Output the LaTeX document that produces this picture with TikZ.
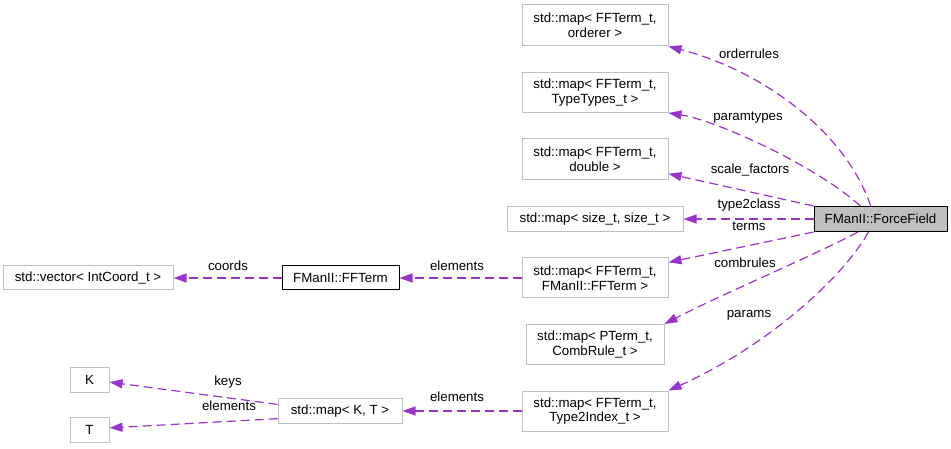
\documentclass[tikz,border=0pt]{standalone}
\usepackage{fontspec}
\setmainfont{Liberation Sans}
\usepackage{tikz}
\usetikzlibrary{arrows.meta, positioning}

\definecolor{edgepurple}{HTML}{9A32CD}
\definecolor{boxgray}{HTML}{BFBFBF}
\newcommand{\dfont}{\fontsize{13.3}{14.7}\selectfont}

\begin{document}
\begin{tikzpicture}[
    x=1pt, y=-1pt,
    node distance=25.5pt,
    cls/.style={rectangle, draw=boxgray, fill=white, line width=1pt, inner sep=0pt, align=center, font=\dfont},
    focus/.style={cls, draw=black, fill=boxgray},
    plain/.style={cls, draw=black},
    lbl/.style={inner sep=0pt, font=\dfont},
    edge/.style={edgepurple, line width=1.2pt, dash pattern=on 9pt off 5pt, -{Triangle[length=13pt, width=9pt]}}
]
\useasboundingbox (0,0) rectangle (951,449);

% Nodes
\node (orderer) [cls, minimum width=146pt, minimum height=41pt] at (595,25.5) {std::map< FFTerm\_t,\\orderer >};

\node (typetypes) [cls, minimum width=146pt, minimum height=40pt, below=of orderer] {std::map< FFTerm\_t,\\TypeTypes\_t >};

\node (scalemap) [cls, minimum width=146pt, minimum height=41pt, below=of typetypes] {std::map< FFTerm\_t,\\double >};

\node (sizemap) [cls, minimum width=176pt, minimum height=25pt, below=of scalemap] {std::map< size\_t, size\_t >};

\node (termmap) [cls, minimum width=146pt, minimum height=40pt, below=of sizemap] {std::map< FFTerm\_t,\\FManII::FFTerm >};

\node (combmap) [cls, minimum width=138pt, minimum height=40pt, below=of termmap] {std::map< PTerm\_t,\\CombRule\_t >};

\node (indexmap) [cls, minimum width=146pt, minimum height=40pt, below=of combmap] {std::map< FFTerm\_t,\\Type2Index\_t >};

\node (ff) [focus, minimum width=133pt, minimum height=25pt, right=130pt of sizemap] {FManII::ForceField};

\node (ffterm) [plain, minimum width=117pt, minimum height=24pt, left=122pt of termmap] {FManII::FFTerm};

\node (vector) [cls, minimum width=170pt, minimum height=24pt, left=108pt of ffterm] {std::vector< IntCoord\_t >};

\node (ktmap) [cls, minimum width=124pt, minimum height=25pt, left=119pt of indexmap] {std::map< K, T >};

\node (keytype) [cls, minimum width=39pt, minimum height=25pt] at (89.5,380) {K};

\node (valtype) [cls, minimum width=39pt, minimum height=25pt] at (89.5,430) {T};

% Labels
\node (lorder) [lbl] at (749,54) {orderrules};
\node (lparam) [lbl] at (748,118) {paramtypes};
\node (lscale) [lbl] at (750,170) {scale\_factors};
\node (ltype) [lbl] at (749,205) {type2class};
\node (lterms) [lbl] at (749,226) {terms};
\node (lcomb) [lbl] at (745,263) {combrules};
\node (lparams) [lbl] at (749,315) {params};
\node (lelem) [lbl] at (457,266) {elements};
\node (lcoords) [lbl] at (228,266) {coords};
\node (lelemb) [lbl] at (457,397) {elements};
\node (lkeys) [lbl] at (228,382) {keys};
\node (lvals) [lbl] at (229,406) {elements};

% Arrows
\draw [edge] (ff.127) .. controls (845,130) and (760,70) .. (orderer.south east);
\draw [edge] (ff.147) .. controls (815,165) and (715,120) .. (typetypes.south east);
\draw [edge] (ff.169) -- (scalemap.-11);
\draw [edge] (ff.west) -- (sizemap.east);
\draw [edge] (ff.191) -- (termmap.12);
\draw [edge] (ff.210) .. controls (815,255) and (720,295) .. (combmap.north east);
\draw [edge] (ff.227) .. controls (845,275) and (770,345) .. (indexmap.north east);
\draw [edge] (termmap.west) -- (ffterm.east);
\draw [edge] (ffterm.west) -- (vector.east);
\draw [edge] (indexmap.west) -- (ktmap.east);
\draw [edge] (ktmap.174) -- (keytype.-6);
\draw [edge] (ktmap.187) -- (valtype.6);

\end{tikzpicture}
\end{document}
